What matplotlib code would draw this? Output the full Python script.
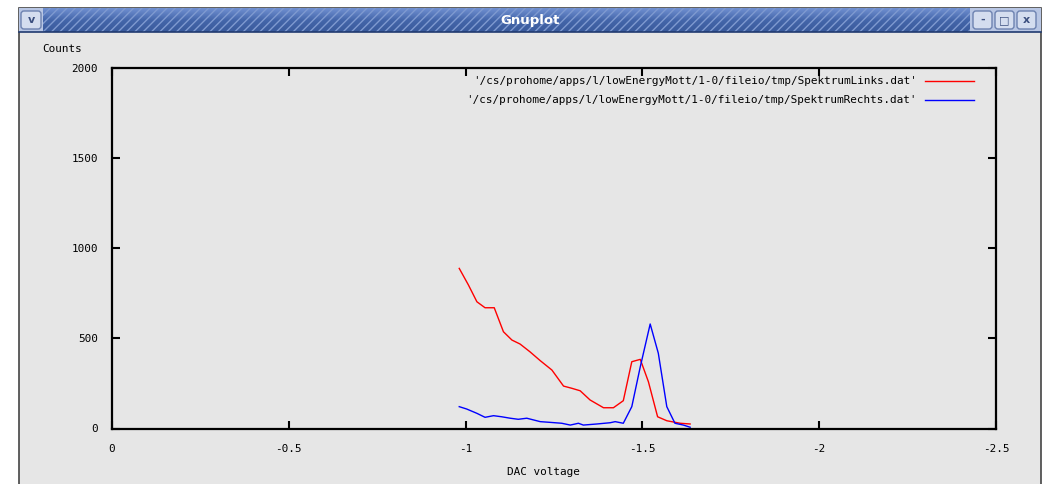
import matplotlib
matplotlib.use("Agg")
import matplotlib.pyplot as plt
from matplotlib.patches import Rectangle, FancyBboxPatch
from matplotlib.lines import Line2D
import numpy as np

# ---- data ----
links_x = [-0.982, -1.008, -1.032, -1.055, -1.081, -1.107, -1.131, -1.154, -1.182,
           -1.211, -1.244, -1.277, -1.300, -1.324, -1.352, -1.390, -1.418, -1.446,
           -1.470, -1.494, -1.517, -1.543, -1.569, -1.607, -1.635]
links_y = [887, 795, 702, 669, 669, 536, 490, 468, 425,
           376, 324, 235, 223, 209, 158, 115, 115, 154,
           370, 383, 259, 65, 43, 29, 25]

rechts_x = [-0.982, -1.003, -1.032, -1.055, -1.079, -1.102, -1.126, -1.149, -1.173,
            -1.211, -1.239, -1.272, -1.296, -1.319, -1.333, -1.371, -1.409, -1.423,
            -1.446, -1.470, -1.494, -1.522, -1.545, -1.569, -1.592, -1.616, -1.635]
rechts_y = [121, 108, 84, 62, 71, 65, 57, 51, 57,
            38, 34, 29, 19, 29, 19, 25, 32, 38,
            29, 121, 342, 579, 417, 121, 29, 19, 7]

labels = ["'/cs/prohome/apps/l/lowEnergyMott/1-0/fileio/tmp/SpektrumLinks.dat'",
          "'/cs/prohome/apps/l/lowEnergyMott/1-0/fileio/tmp/SpektrumRechts.dat'"]
colors = ["#ff0000", "#0000ff"]
xticks = [0, -0.5, -1, -1.5, -2, -2.5]
xticklabels = ["0", "-0.5", "-1", "-1.5", "-2", "-2.5"]
yticks = [0, 500, 1000, 1500, 2000]
yticklabels = ["0", "500", "1000", "1500", "2000"]

W, H = 1046, 484
FONT = "DejaVu Sans Mono"
FS = 7.9
GREY = "#e6e6e6"

fig = plt.figure(figsize=(W / 100, H / 100), dpi=100)
fig.patch.set_facecolor("white")

# ---- window chrome (background axes in pixel coordinates) ----
bg = fig.add_axes([0, 0, 1, 1], zorder=0)
bg.set_xlim(0, W)
bg.set_ylim(H, 0)
bg.axis("off")
bg.add_patch(Rectangle((19, 8), 1022, 480, facecolor=GREY, edgecolor="#444444", lw=1.2))
# title bar
grad = np.linspace(0, 1, 24)[:, None] * np.ones((1, 10))
cmap_tb = matplotlib.colors.LinearSegmentedColormap.from_list(
    "tb", ["#6f8fd0", "#4466aa", "#3a5a9c"])
bg.imshow(grad, extent=(19, 970, 32, 8), cmap=cmap_tb, aspect="auto", zorder=1)
bg.add_patch(Rectangle((19, 8), 951, 24, facecolor="none", edgecolor="#7f9ad0",
                       hatch="////", lw=0, zorder=2))
bg.add_patch(Rectangle((970, 8), 71, 24, facecolor="#b8c6e4", edgecolor="none", zorder=2))
bg.add_patch(Rectangle((19, 8), 24, 24, facecolor="#b8c6e4", edgecolor="none", zorder=2))
bg.add_line(Line2D([19, 1041], [32, 32], color="#203a70", lw=1.2, zorder=3))
bg.text(530, 20.5, "Gnuplot", color="white", fontsize=9.5, fontweight="bold",
        ha="center", va="center", family="DejaVu Sans", zorder=4)
# buttons
for (bx, bw, sym) in [(21, 20, "v"), (973, 19, "-"), (995, 19, "□"), (1017, 19, "x")]:
    bg.add_patch(FancyBboxPatch((bx, 11), bw, 18, boxstyle="round,pad=0,rounding_size=3",
                                facecolor="#d4ddef", edgecolor="#6d82b0", lw=1, zorder=4))
    bg.text(bx + bw / 2, 20, sym, color="#3b4f7f", fontsize=8, fontweight="bold",
            ha="center", va="center", family="DejaVu Sans", zorder=5)

# ---- plot axes ----
x0, x1 = 112, 996
ytop, ybot = 67.5, 428.5
ax = fig.add_axes([x0 / W, 1 - ybot / H, (x1 - x0) / W, (ybot - ytop) / H], zorder=2)
ax.set_facecolor(GREY)
ax.plot(links_x, links_y, color=colors[0], lw=1.0)
ax.plot(rechts_x, rechts_y, color=colors[1], lw=1.0)
ax.set_xlim(0, -2.5)
ax.set_ylim(0, 2000)
ax.set_xticks(xticks)
ax.set_xticklabels(xticklabels)
ax.set_yticks(yticks)
ax.set_yticklabels(yticklabels)
ax.tick_params(direction="in", length=6, width=1.5, top=True, right=True,
               labelsize=FS, colors="black")
for lab in ax.get_xticklabels() + ax.get_yticklabels():
    lab.set_family(FONT)
ax.tick_params(axis="x", pad=11)
ax.tick_params(axis="y", pad=10)
for s in ax.spines.values():
    s.set_linewidth(1.6)
    s.set_color("black")

# axis labels
fig.text(42 / W, 1 - 49 / H, "Counts", fontsize=FS, family=FONT, ha="left", va="center")
fig.text(543 / W, 1 - 472 / H, "DAC voltage", fontsize=FS, family=FONT, ha="center", va="center")

# key (gnuplot style: right-aligned text, sample line to the right)
for i, (lab, col) in enumerate(zip(labels, colors)):
    yk = 1 - (81 + 19 * i) / H
    ax.text(917 / W, yk, lab, fontsize=FS, family=FONT, ha="right", va="center",
            transform=fig.transFigure, zorder=10)
    ax.add_line(Line2D([925 / W, 974 / W], [yk, yk], color=col, lw=1.0,
                       transform=fig.transFigure, clip_on=False, zorder=10))

fig.savefig("out.png", dpi=100, facecolor="white")
